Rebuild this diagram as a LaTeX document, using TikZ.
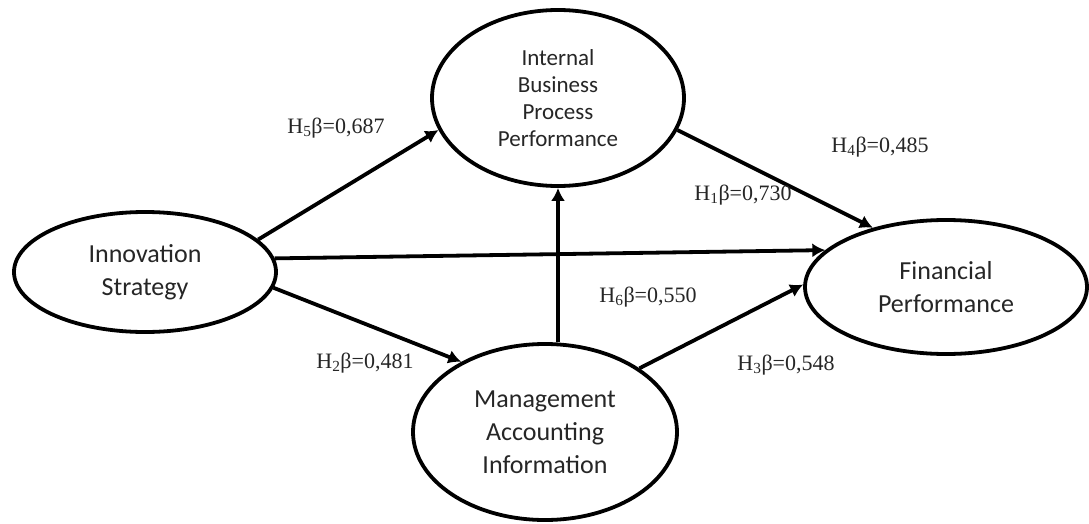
\documentclass[tikz,border=0pt]{standalone}
\usepackage{fontspec}
\setmainfont{Liberation Serif}
\newfontfamily\calib{Carlito}
\usetikzlibrary{shapes.geometric,arrows.meta}
\begin{document}
\begin{tikzpicture}[x=1pt,y=-1pt,
  lat/.style={ellipse,draw,line width=3.8pt,inner sep=0pt,align=center,
    font=\calib\fontsize{26}{33}\selectfont,text=black!85},
  arr/.style={line width=3.8pt,-{Latex[length=13pt,width=14pt]}},
  lab/.style={font=\fontsize{22}{26}\selectfont,text=black!85,inner sep=0pt}]
\useasboundingbox[fill=white] (0,0) rectangle (1089,524);
\node[lat,minimum width=262pt,minimum height=120pt] (IS) at (145,272) {Innovation\\Strategy};
\node[lat,minimum width=252pt,minimum height=176pt,font=\calib\fontsize{23}{27}\selectfont] (IBPP) at (558,98) {Internal\\Business\\Process\\Performance};
\node[lat,minimum width=282pt,minimum height=134pt] (FP) at (946,287) {Financial\\Performance};
\node[lat,minimum width=264pt,minimum height=176pt] (MAI) at (545,432) {Management\\Accounting\\Information};
\draw[arr] (IS.16) -- (IBPP.195);
\draw[arr] (IS.6) -- (FP.163);
\draw[arr] (IS.-7) -- (MAI.140);
\draw[arr] (MAI.north -| IBPP.south) -- (IBPP.south);
\draw[arr] (MAI.34) -- (FP.179);
\draw[arr] (IBPP.-15) -- (FP.141);
\node[lab] (l5) at (336,128) {H\textsubscript{5}β=0,687};
\node[lab] (l4) at (880,147) {H\textsubscript{4}β=0,485};
\node[lab] (l1) at (743,195) {H\textsubscript{1}β=0,730};
\node[lab] (l6) at (648,297) {H\textsubscript{6}β=0,550};
\node[lab] (l3) at (786,365) {H\textsubscript{3}β=0,548};
\node[lab] (l2) at (365,363) {H\textsubscript{2}β=0,481};
\end{tikzpicture}
\end{document}
